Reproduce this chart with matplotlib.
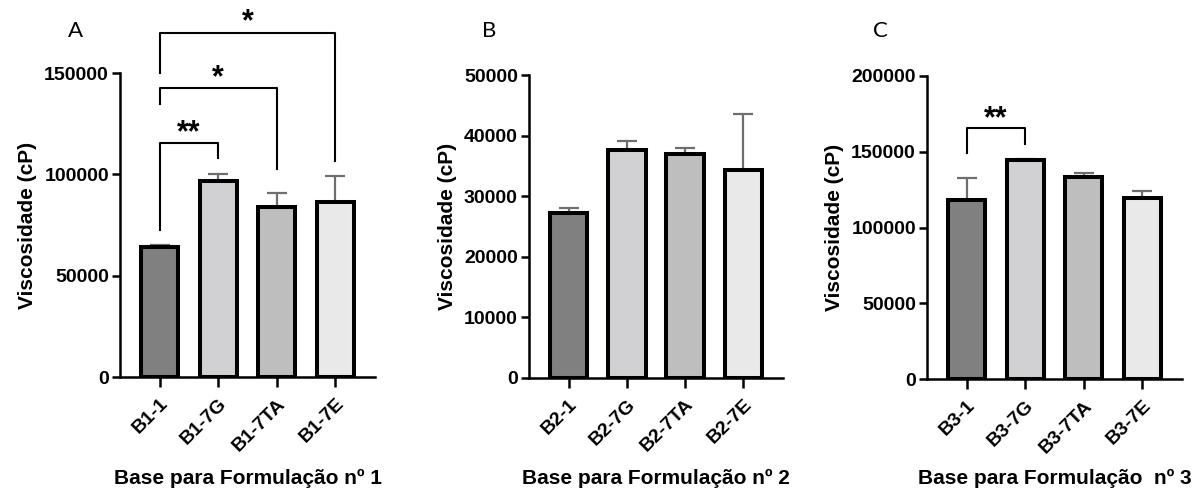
import matplotlib
matplotlib.use("Agg")
import matplotlib.pyplot as plt
import numpy as np

plt.rcParams['font.family'] = ['Liberation Sans', 'DejaVu Sans']

# Panel A - Base 1
a_labels = ['B1-1', 'B1-7G', 'B1-7TA', 'B1-7E']
a_mean = [64000, 96500, 83800, 86200]
a_sd = [1200, 3600, 6900, 13000]
a_ticks = [0, 50000, 100000, 150000]

# Panel B - Base 2
b_labels = ['B2-1', 'B2-7G', 'B2-7TA', 'B2-7E']
b_mean = [27300, 37700, 37000, 34400]
b_sd = [800, 1400, 900, 9200]
b_ticks = [0, 10000, 20000, 30000, 40000, 50000]

# Panel C - Base 3
c_labels = ['B3-1', 'B3-7G', 'B3-7TA', 'B3-7E']
c_mean = [118000, 144500, 133200, 119500]
c_sd = [15000, 800, 2600, 4800]
c_ticks = [0, 50000, 100000, 150000, 200000]

# significance brackets: (i, j, top, left_end, right_end, text, text_y)
a_sig = [(0, 1, 115300, 72700, 108000, '**', 120500),
         (0, 2, 142600, 134600, 102500, '*', 147500),
         (0, 3, 169800, 150000, 106400, '*', 175000)]
c_sig = [(0, 1, 166000, 149000, 155000, '**', 171500)]

bar_colors = ['#808080', '#d1d1d3', '#bebebe', '#e9e9e9']

fig = plt.figure(figsize=(11.99, 4.88), dpi=100)
W, H = 1199, 488


def panel(left, right, top, bottom, labels, mean, sd, ticks, xlabel, letter, letter_xy, sig):
    ax = fig.add_axes([left / W, 1 - bottom / H, (right - left) / W, (bottom - top) / H])
    x = np.arange(len(labels))
    ax.errorbar(x, mean, yerr=[np.zeros(len(sd)), sd], fmt='none', ecolor='#6e6e6e',
                elinewidth=1.6, capsize=7, capthick=1.6, zorder=1)
    ax.bar(x, mean, width=0.64, color=bar_colors, edgecolor='black', linewidth=2.9, zorder=2)
    ax.set_xlim(-0.68, 3.68)
    ax.set_ylim(0, ticks[-1])
    ax.set_yticks(ticks)
    ax.set_yticklabels([str(t) for t in ticks], fontsize=14, fontweight='bold')
    ax.set_xticks(x)
    ax.set_xticklabels(labels, rotation=45, ha='right', rotation_mode='anchor',
                       fontsize=14, fontweight='bold')
    for s in ['top', 'right']:
        ax.spines[s].set_visible(False)
    for s in ['left', 'bottom']:
        ax.spines[s].set_linewidth(1.8)
    ax.tick_params(axis='y', length=6, width=1.8, pad=2)
    ax.tick_params(axis='x', length=7, width=1.8, pad=6)
    ax.set_ylabel('Viscosidade (cP)', fontsize=15, fontweight='bold', labelpad=5)
    fig.text((left + right) / 2 / W, 1 - 478 / H, xlabel, fontsize=15,
             fontweight='bold', ha='center', va='center')
    fig.text(letter_xy[0] / W, 1 - letter_xy[1] / H, letter, fontsize=16,
             family=['Lato', 'DejaVu Sans'], ha='center', va='center')
    for i, j, top_v, l_end, r_end, txt, ty in sig:
        ax.plot([i, i, j, j], [l_end, top_v, top_v, r_end], color='black', lw=1.5,
                clip_on=False, zorder=3)
        ax.text((i + j) / 2, ty, txt, fontsize=22, fontweight='bold', ha='center',
                va='center', clip_on=False)
    return ax


panel(120, 375, 73, 377, a_labels, a_mean, a_sd, a_ticks,
      'Base para Formulação nº 1', 'A', (75, 31), a_sig)
panel(529, 783, 75, 378, b_labels, b_mean, b_sd, b_ticks,
      'Base para Formulação nº 2', 'B', (489, 31), [])
panel(927, 1182, 76, 379, c_labels, c_mean, c_sd, c_ticks,
      'Base para Formulação  nº 3', 'C', (880, 31), c_sig)

fig.savefig('out.png', dpi=100)
